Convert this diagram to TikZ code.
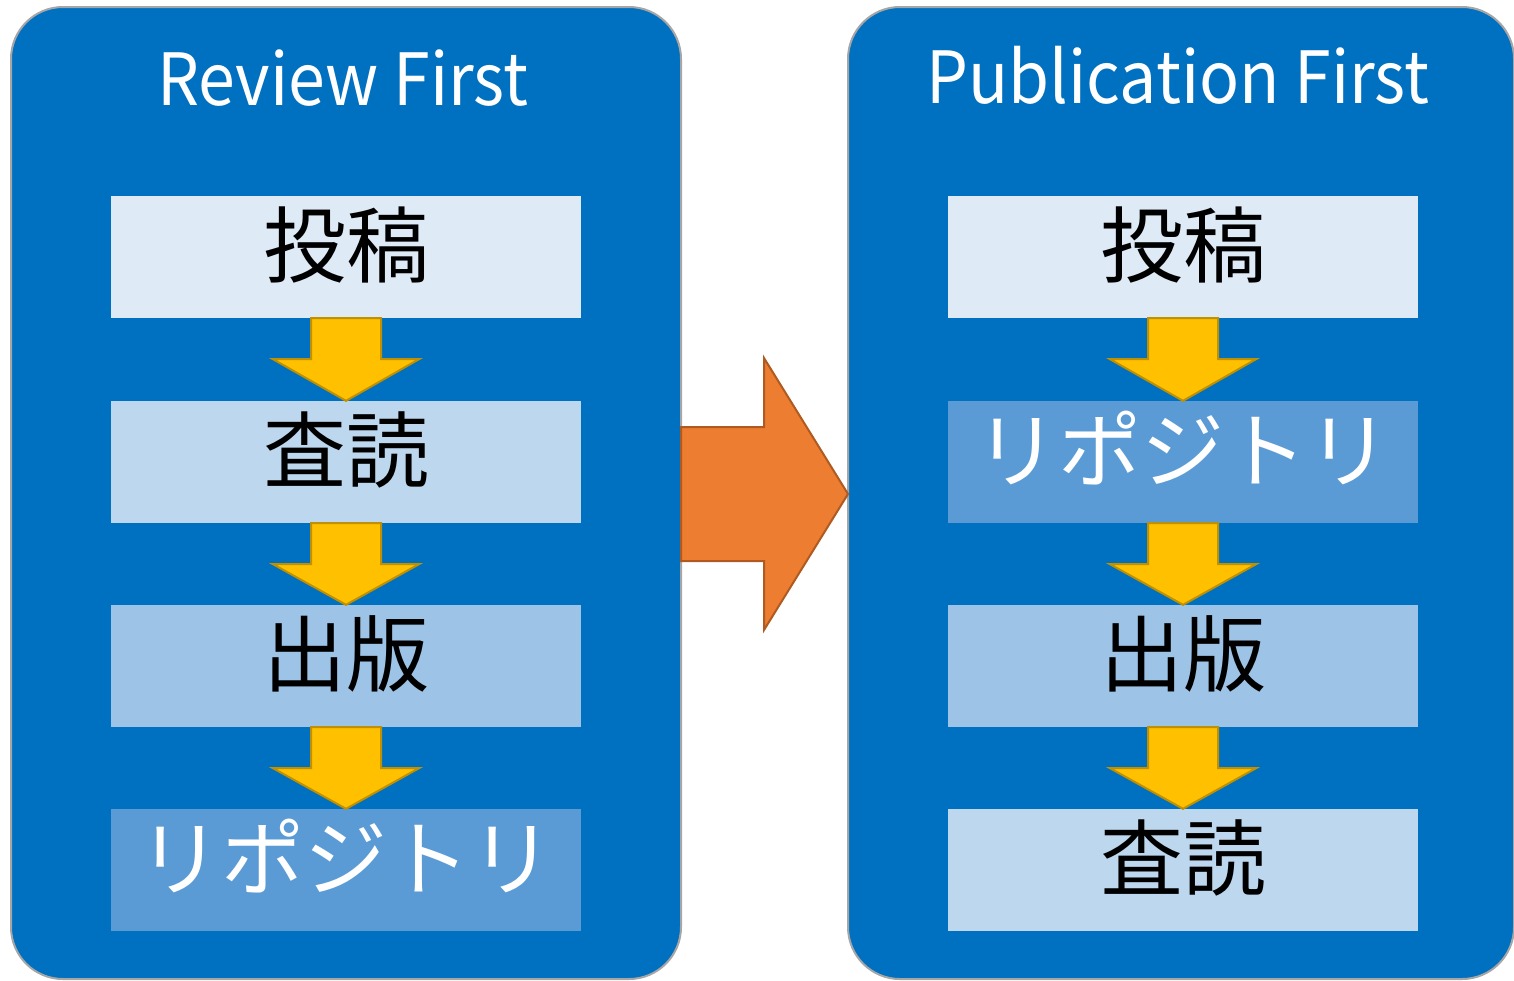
\documentclass[tikz,border=0pt]{standalone}
\usepackage{fontspec}
\newfontfamily\jpfont{Noto Sans CJK JP}
\usetikzlibrary{calc}
\definecolor{panelblue}{HTML}{0070C0}
\definecolor{panelline}{HTML}{A6A6A6}
\definecolor{stageA}{HTML}{DEEAF6}
\definecolor{stageB}{HTML}{BDD7EE}
\definecolor{stageC}{HTML}{9DC3E6}
\definecolor{stageD}{HTML}{5B9BD5}
\definecolor{flowfill}{HTML}{FFC000}
\definecolor{flowline}{HTML}{BF9000}
\definecolor{bigfill}{HTML}{ED7D31}
\definecolor{bigline}{HTML}{AE5A21}
\tikzset{
  panel/.style={fill=panelblue, draw=panelline, line width=2pt, rounded corners=52pt},
  title/.style={text=white, xscale=0.92, font=\jpfont\fontsize{72}{72}\selectfont},
  stage/.style={minimum width=470pt, minimum height=122pt, inner sep=0pt,
    text height=70pt, text depth=32pt, font=\jpfont\fontsize{83}{83}\selectfont},
  flow/.style={fill=flowfill, draw=flowline, line width=2pt, line join=miter},
  bigarrow/.style={fill=bigfill, draw=bigline, line width=2pt}
}
% yellow arrow from the bottom of one stage to the top of the next
\newcommand\flowarrow[2]{%
  \draw[flow] ($(#1.south)+(-35,0)$) -- ($(#1.south)+(35,0)$) -- ($(#1.south)+(35,41)$)
    -- ($(#1.south)+(73,41)$) -- (#2.north) -- ($(#1.south)+(-73,41)$)
    -- ($(#1.south)+(-35,41)$) -- cycle;}
\begin{document}
\begin{tikzpicture}[x=1pt,y=-1pt]
\useasboundingbox (0,0) rectangle (1514,980);
% panels
\draw[panel] (11,7) rectangle (681,979);
\draw[panel] (848,7) rectangle (1514,979);
\node[title] (rtitle) at (343,78) {Review First};
\node[title] (ptitle) at (1178,75) {Publication First};
% review first
\node[stage, fill=stageA] (r1) at (346,257) {投稿};
\node[stage, fill=stageB] (r2) at (346,462) {査読};
\node[stage, fill=stageC] (r3) at (346,666) {出版};
\node[stage, fill=stageD, text=white] (r4) at (346,870) {リポジトリ};
\flowarrow{r1}{r2}
\flowarrow{r2}{r3}
\flowarrow{r3}{r4}
% publication first
\node[stage, fill=stageA] (p1) at (1183,257) {投稿};
\node[stage, fill=stageD, text=white] (p2) at (1183,462) {リポジトリ};
\node[stage, fill=stageC] (p3) at (1183,666) {出版};
\node[stage, fill=stageB] (p4) at (1183,870) {査読};
\flowarrow{p1}{p2}
\flowarrow{p2}{p3}
\flowarrow{p3}{p4}
% big arrow between the panels
\coordinate (A) at (681,427);
\coordinate (B) at (764,427);
\coordinate (C) at (764,358);
\coordinate (D) at (848,494);
\coordinate (E) at (764,630);
\coordinate (F) at (764,561);
\coordinate (G) at (681,561);
\draw[bigarrow] (A) -- (B) -- (C) -- (D) -- (E) -- (F) -- (G) -- cycle;
\end{tikzpicture}
\end{document}
